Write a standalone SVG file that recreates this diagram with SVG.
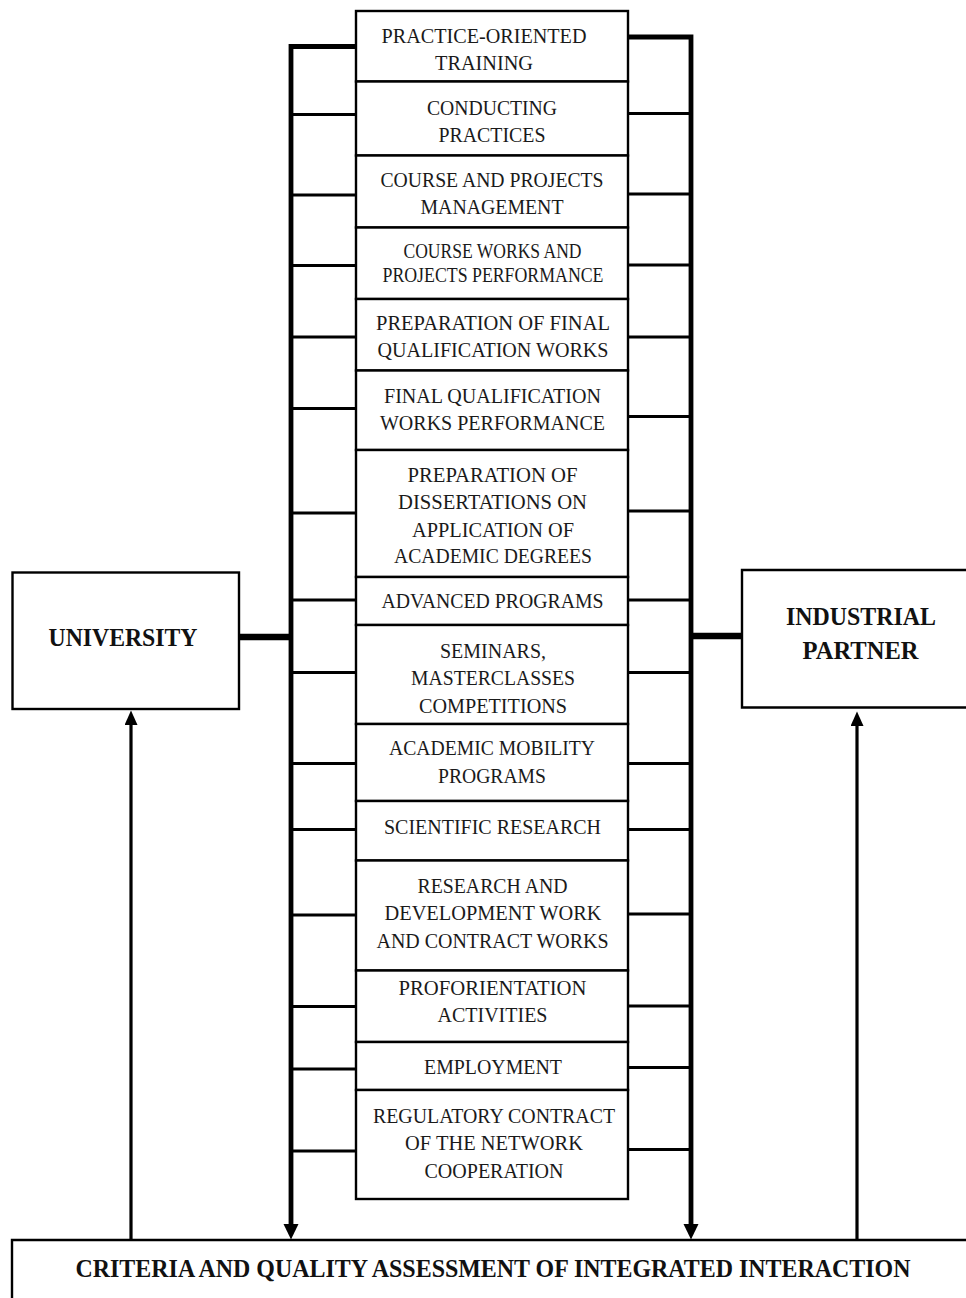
<svg xmlns="http://www.w3.org/2000/svg" width="966" height="1298" viewBox="0 0 966 1298">
<style>
.box{fill:#fff;stroke:#000;stroke-width:2.4}
.t{font-family:"Liberation Serif","Times New Roman",serif;font-size:20px;fill:#1a1a1a;text-anchor:middle}
.tb{font-family:"Liberation Serif","Times New Roman",serif;font-size:26px;font-weight:bold;fill:#111;text-anchor:middle}
.bar{stroke:#000;stroke-width:4.8;fill:none}
.con{stroke:#000;stroke-width:3.2;fill:none}
.thick{stroke:#000;stroke-width:6.5;fill:none}
.arr{stroke:#000;stroke-width:3.2;fill:none}
</style>
<defs>
<marker id="ah" markerUnits="userSpaceOnUse" markerWidth="16" markerHeight="16" refX="0" refY="7.5" orient="auto">
<path d="M0,0 L15.5,7.5 L0,15 z" fill="#000"/>
</marker>
<marker id="ahs" markerUnits="userSpaceOnUse" markerWidth="16" markerHeight="16" refX="0" refY="6.5" orient="auto">
<path d="M0,0 L14.5,6.5 L0,13 z" fill="#000"/>
</marker>
</defs>

<g id="connectors">
<polyline class="bar" points="356,46.5 291,46.5 291,1224"  marker-end="url(#ah)"/>
<polyline class="bar" points="628,37 691,37 691,1224" marker-end="url(#ah)"/>
<g class="con">
<line x1="291" y1="114.5" x2="356" y2="114.5"/>
<line x1="291" y1="195" x2="356" y2="195"/>
<line x1="291" y1="265.5" x2="356" y2="265.5"/>
<line x1="291" y1="337" x2="356" y2="337"/>
<line x1="291" y1="408.5" x2="356" y2="408.5"/>
<line x1="291" y1="513" x2="356" y2="513"/>
<line x1="291" y1="600" x2="356" y2="600"/>
<line x1="291" y1="672.5" x2="356" y2="672.5"/>
<line x1="291" y1="763.5" x2="356" y2="763.5"/>
<line x1="291" y1="829.5" x2="356" y2="829.5"/>
<line x1="291" y1="915" x2="356" y2="915"/>
<line x1="291" y1="1006.5" x2="356" y2="1006.5"/>
<line x1="291" y1="1069" x2="356" y2="1069"/>
<line x1="291" y1="1151" x2="356" y2="1151"/>
<line x1="628" y1="113.5" x2="691" y2="113.5"/>
<line x1="628" y1="194" x2="691" y2="194"/>
<line x1="628" y1="265" x2="691" y2="265"/>
<line x1="628" y1="337" x2="691" y2="337"/>
<line x1="628" y1="416.5" x2="691" y2="416.5"/>
<line x1="628" y1="511" x2="691" y2="511"/>
<line x1="628" y1="600" x2="691" y2="600"/>
<line x1="628" y1="672.5" x2="691" y2="672.5"/>
<line x1="628" y1="763.5" x2="691" y2="763.5"/>
<line x1="628" y1="829.5" x2="691" y2="829.5"/>
<line x1="628" y1="914" x2="691" y2="914"/>
<line x1="628" y1="1006" x2="691" y2="1006"/>
<line x1="628" y1="1067.5" x2="691" y2="1067.5"/>
<line x1="628" y1="1149.5" x2="691" y2="1149.5"/>
</g>
<line class="thick" x1="239" y1="637" x2="291" y2="637"/>
<line class="thick" x1="691" y1="636" x2="742" y2="636"/>
<line class="arr" x1="131" y1="1240" x2="131" y2="725" marker-end="url(#ahs)"/>
<line class="arr" x1="857" y1="1240" x2="857" y2="726" marker-end="url(#ahs)"/>
</g>

<g id="n1"><rect class="box" x="356" y="11" width="272" height="70.5"/>
<text class="t" x="484" y="43" textLength="205" lengthAdjust="spacingAndGlyphs">PRACTICE-ORIENTED</text>
<text class="t" x="484" y="70" textLength="98" lengthAdjust="spacingAndGlyphs">TRAINING</text></g>
<g id="n2"><rect class="box" x="356" y="81.5" width="272" height="74"/>
<text class="t" x="492" y="115" textLength="130" lengthAdjust="spacingAndGlyphs">CONDUCTING</text>
<text class="t" x="492" y="142" textLength="107" lengthAdjust="spacingAndGlyphs">PRACTICES</text></g>
<g id="n3"><rect class="box" x="356" y="155.5" width="272" height="72"/>
<text class="t" x="492" y="187" textLength="223" lengthAdjust="spacingAndGlyphs">COURSE AND PROJECTS</text>
<text class="t" x="492" y="214" textLength="143" lengthAdjust="spacingAndGlyphs">MANAGEMENT</text></g>
<g id="n4"><rect class="box" x="356" y="227.5" width="272" height="71.5"/>
<text class="t" x="492.5" y="258" textLength="178" lengthAdjust="spacingAndGlyphs">COURSE WORKS AND</text>
<text class="t" x="493" y="281.5" textLength="221" lengthAdjust="spacingAndGlyphs">PROJECTS PERFORMANCE</text></g>
<g id="n5"><rect class="box" x="356" y="299" width="272" height="71.5"/>
<text class="t" x="493" y="330" textLength="234" lengthAdjust="spacingAndGlyphs">PREPARATION OF FINAL</text>
<text class="t" x="493" y="357" textLength="231" lengthAdjust="spacingAndGlyphs">QUALIFICATION WORKS</text></g>
<g id="n6"><rect class="box" x="356" y="370.5" width="272" height="79.5"/>
<text class="t" x="492.5" y="403" textLength="217" lengthAdjust="spacingAndGlyphs">FINAL QUALIFICATION</text>
<text class="t" x="492.5" y="430" textLength="225" lengthAdjust="spacingAndGlyphs">WORKS PERFORMANCE</text></g>
<g id="n7"><rect class="box" x="356" y="450" width="272" height="127"/>
<text class="t" x="492.5" y="482" textLength="170" lengthAdjust="spacingAndGlyphs">PREPARATION OF</text>
<text class="t" x="492.5" y="509" textLength="189" lengthAdjust="spacingAndGlyphs">DISSERTATIONS ON</text>
<text class="t" x="493" y="536.5" textLength="162" lengthAdjust="spacingAndGlyphs">APPLICATION OF</text>
<text class="t" x="493" y="562.5" textLength="198" lengthAdjust="spacingAndGlyphs">ACADEMIC DEGREES</text></g>
<g id="n8"><rect class="box" x="356" y="577" width="272" height="48"/>
<text class="t" x="492.5" y="607.5" textLength="222" lengthAdjust="spacingAndGlyphs">ADVANCED PROGRAMS</text></g>
<g id="n9"><rect class="box" x="356" y="625" width="272" height="99"/>
<text class="t" x="493" y="657.5" textLength="106" lengthAdjust="spacingAndGlyphs">SEMINARS,</text>
<text class="t" x="493" y="685" textLength="164" lengthAdjust="spacingAndGlyphs">MASTERCLASSES</text>
<text class="t" x="493" y="712.5" textLength="148" lengthAdjust="spacingAndGlyphs">COMPETITIONS</text></g>
<g id="n10"><rect class="box" x="356" y="724" width="272" height="77"/>
<text class="t" x="492" y="755" textLength="206" lengthAdjust="spacingAndGlyphs">ACADEMIC MOBILITY</text>
<text class="t" x="492" y="782.5" textLength="108" lengthAdjust="spacingAndGlyphs">PROGRAMS</text></g>
<g id="n11"><rect class="box" x="356" y="801" width="272" height="59.5"/>
<text class="t" x="492.5" y="833.5" textLength="217" lengthAdjust="spacingAndGlyphs">SCIENTIFIC RESEARCH</text></g>
<g id="n12"><rect class="box" x="356" y="860.5" width="272" height="110"/>
<text class="t" x="492.5" y="893" textLength="150" lengthAdjust="spacingAndGlyphs">RESEARCH AND</text>
<text class="t" x="493" y="920" textLength="217" lengthAdjust="spacingAndGlyphs">DEVELOPMENT WORK</text>
<text class="t" x="492.5" y="947.5" textLength="232" lengthAdjust="spacingAndGlyphs">AND CONTRACT WORKS</text></g>
<g id="n13"><rect class="box" x="356" y="970.5" width="272" height="71.5"/>
<text class="t" x="492.5" y="995" textLength="188" lengthAdjust="spacingAndGlyphs">PROFORIENTATION</text>
<text class="t" x="492.5" y="1022" textLength="110" lengthAdjust="spacingAndGlyphs">ACTIVITIES</text></g>
<g id="n14"><rect class="box" x="356" y="1042" width="272" height="48"/>
<text class="t" x="493" y="1074" textLength="138" lengthAdjust="spacingAndGlyphs">EMPLOYMENT</text></g>
<g id="n15"><rect class="box" x="356" y="1090" width="272" height="109"/>
<text class="t" x="494" y="1123" textLength="242" lengthAdjust="spacingAndGlyphs">REGULATORY CONTRACT</text>
<text class="t" x="494" y="1150" textLength="178" lengthAdjust="spacingAndGlyphs">OF THE NETWORK</text>
<text class="t" x="494" y="1177.5" textLength="139" lengthAdjust="spacingAndGlyphs">COOPERATION</text></g>

<g id="university"><rect class="box" x="12.5" y="572.5" width="226.5" height="136.5"/>
<text class="tb" x="123" y="646" textLength="149" lengthAdjust="spacingAndGlyphs">UNIVERSITY</text></g>
<g id="partner"><path class="box" d="M966,570 H742 V707.5 H966"/>
<text class="tb" x="861" y="625" textLength="150" lengthAdjust="spacingAndGlyphs">INDUSTRIAL</text>
<text class="tb" x="860.5" y="659" textLength="116" lengthAdjust="spacingAndGlyphs">PARTNER</text></g>
<g id="criteria"><path class="box" d="M12,1298 V1240 H966"/>
<text class="tb" x="493" y="1277" font-size="25" textLength="835" lengthAdjust="spacingAndGlyphs">CRITERIA AND QUALITY ASSESSMENT OF INTEGRATED INTERACTION</text></g>
</svg>
